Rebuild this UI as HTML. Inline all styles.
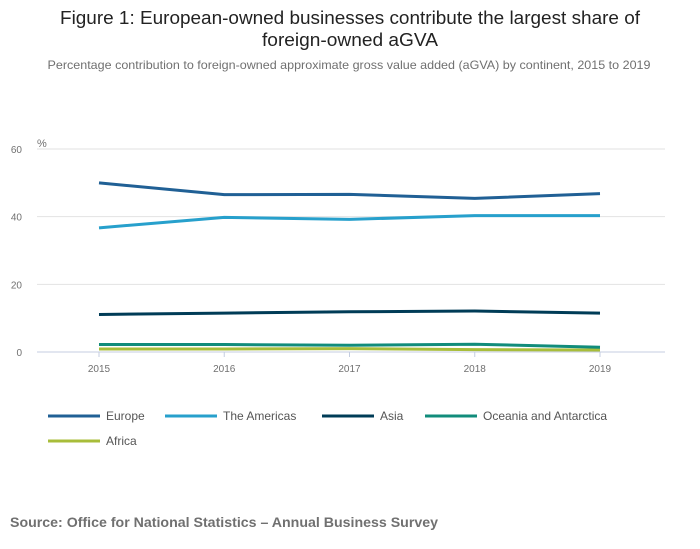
<!DOCTYPE html>
<html><head><meta charset="utf-8"><style>
html,body{margin:0;padding:0;background:#fff;width:700px;height:549px;overflow:hidden}
svg{display:block;font-family:"Liberation Sans",sans-serif}
</style></head><body>
<svg id="chart" width="700" height="549">
<text x="350" y="24" text-anchor="middle" font-size="18" fill="#222" textLength="580" lengthAdjust="spacingAndGlyphs">Figure 1: European-owned businesses contribute the largest share of</text>
<text x="350" y="46" text-anchor="middle" font-size="18" fill="#222" textLength="176" lengthAdjust="spacingAndGlyphs">foreign-owned aGVA</text>
<text x="349" y="69" text-anchor="middle" font-size="12" fill="#707070" textLength="603" lengthAdjust="spacingAndGlyphs">Percentage contribution to foreign-owned approximate gross value added (aGVA) by continent, 2015 to 2019</text>
<text x="37" y="147" font-size="11" fill="#707070">%</text>
<g id="grid"></g><g id="lines"></g><g id="legend"></g>
<text x="10" y="527" font-size="14" font-weight="bold" fill="#707070" textLength="428" lengthAdjust="spacingAndGlyphs">Source: Office for National Statistics – Annual Business Survey</text>
</svg>
<script>
const years=["2015","2016","2017","2018","2019"];
const yTicks=[0,20,40,60];
const seriesNames=["Europe","The Americas","Asia","Oceania and Antarctica","Africa"];
const europe=[50.0,46.5,46.6,45.4,46.8];
const americas=[36.7,39.8,39.2,40.3,40.3];
const asia=[11.1,11.5,11.9,12.1,11.5];
const oceania=[2.2,2.2,2.0,2.3,1.4];
const africa=[0.9,0.9,1.0,0.7,0.6];
const seriesValues=[europe,americas,asia,oceania,africa];
const colors=["#206095","#27a0cc","#003c57","#118c7b","#a8bd3a"];
const NS="http://www.w3.org/2000/svg";
const xS=i=>99+i*(600-99)/(years.length-1);
const yS=v=>352-v*(352-149)/60;
function mk(t,a,p){const e=document.createElementNS(NS,t);for(const k in a)e.setAttribute(k,a[k]);p.appendChild(e);return e;}
const grid=document.getElementById('grid');
yTicks.forEach(v=>{
  const l=mk('line',{x1:37,x2:665,y1:yS(v),y2:yS(v),stroke:v===0?'#c4cde0':'#e2e2e2','stroke-width':1},grid);
  
  
  const t=mk('text',{x:22,y:yS(v)+4,'text-anchor':'end','font-size':10,fill:'#707070'},grid);
  t.textContent=v;
  
  
});
years.forEach((y,i)=>{
  const k=mk('line',{x1:xS(i),x2:xS(i),y1:352,y2:357,stroke:'#c4cde0'},grid);
  
  
  const t=mk('text',{x:xS(i),y:372,'text-anchor':'middle','font-size':10,fill:'#707070'},grid);
  t.textContent=y;
  
  
});
const lines=document.getElementById('lines');
for(let s=seriesValues.length-1;s>=0;s--){
  const d=seriesValues[s].map((v,i)=>(i?'L':'M')+xS(i)+','+yS(v)).join('');
  const p=mk('path',{d:d,fill:'none',stroke:colors[s],'stroke-width':3,'stroke-linejoin':'round'},lines);
  
  
}
const legend=document.getElementById('legend');
const lx=[48,165,322,425,48], ly=[416,416,416,416,441];
seriesNames.forEach((n,s)=>{
  const g=mk('g',{},legend);
  
  
  mk('line',{x1:lx[s],x2:lx[s]+52,y1:ly[s],y2:ly[s],stroke:colors[s],'stroke-width':3},g);
  const t=mk('text',{x:lx[s]+58,y:ly[s]+4,'font-size':12,fill:'#555'},g);
  t.textContent=n;
});
</script>
</body></html>
